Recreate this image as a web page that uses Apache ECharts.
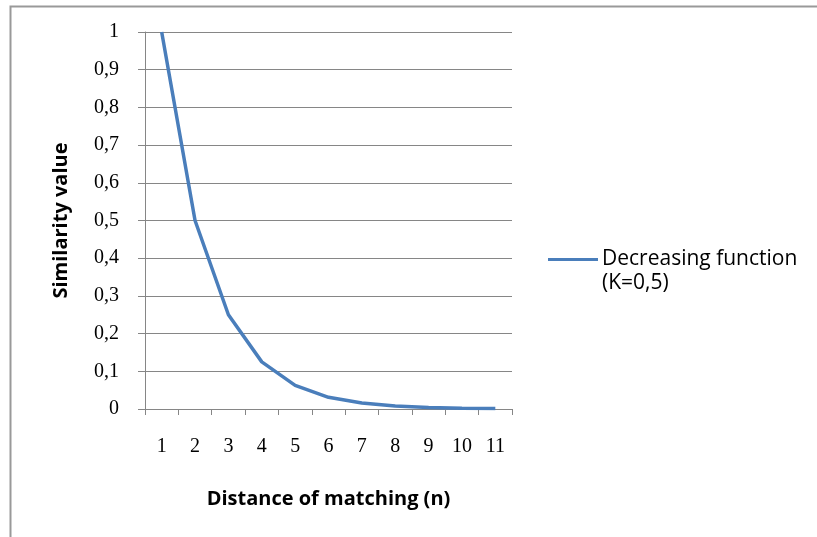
<!DOCTYPE html>
<html>
<head>
<meta charset="utf-8">
<script src="https://cdn.jsdelivr.net/npm/echarts@6/dist/echarts.min.js"></script>
<style>
  html, body { margin: 0; padding: 0; background: #fff; }
  #main { width: 817px; height: 537px; }
</style>
</head>
<body>
<div id="main"></div>
<script>
// 数据
var categories = ['1', '2', '3', '4', '5', '6', '7', '8', '9', '10', '11'];
var similarity = [1, 0.5, 0.25, 0.125, 0.0625, 0.031, 0.016, 0.008, 0.004, 0.002, 0.001];
var seriesName = 'Decreasing function';
var seriesNote = '(K=0,5)';

(function () {
  // 1.初始化echarts实例对象
  var myChart = echarts.init(document.getElementById('main'));

  // 2.指定配置项与数据
  var option = {
    backgroundColor: '#fff',
    animation: false,
    grid: {//图表四周留白
      left: 145,
      top: 32,
      right: 305,
      bottom: 128
    },
    legend: {
      left: 548,
      top: 249,
      padding: 0,
      orient: 'vertical',
      icon: 'rect',
      itemWidth: 50,
      itemHeight: 3,
      textStyle: {
        fontFamily: 'Open Sans',
        fontSize: 21,
        color: '#000',
        padding: [0, 0, 0, -1]
      },
      data: [seriesName]
    },
    xAxis: {
      type: 'category',
      boundaryGap: true,
      data: categories,
      name: 'Distance of matching (n)',
      nameLocation: 'middle',
      nameGap: 80,
      nameTextStyle: {
        fontFamily: 'Open Sans',
        fontWeight: 'bold',
        fontSize: 20,
        color: '#000'
      },
      axisLine: { lineStyle: { color: '#868686', width: 1 } },
      axisTick: { show: true, length: 6, lineStyle: { color: '#868686' } },
      axisLabel: {
        margin: 28,
        fontFamily: 'Liberation Serif',
        fontSize: 20,
        color: '#000'
      }
    },
    yAxis: {
      type: 'value',
      min: 0,
      max: 1,
      interval: 0.1,
      name: 'Similarity value',
      nameLocation: 'middle',
      nameGap: 74,
      nameTextStyle: {
        fontFamily: 'Open Sans',
        fontWeight: 'bold',
        fontSize: 20,
        color: '#000'
      },
      axisLine: { show: true, lineStyle: { color: '#868686', width: 1 } },
      axisTick: { show: true, length: 7, lineStyle: { color: '#868686' } },
      splitLine: { lineStyle: { color: '#868686', width: 1 } },
      axisLabel: {
        margin: 26,
        fontFamily: 'Liberation Serif',
        fontSize: 20,
        color: '#000',
        formatter: function (v) {
          return String(Math.round(v * 10) / 10).replace('.', ',');
        }
      }
    },
    series: [{
      name: seriesName,
      type: 'line',
      data: similarity,
      showSymbol: false,
      lineStyle: { color: '#4a7ebb', width: 3.5 },
      itemStyle: { color: '#4a7ebb' }
    }],
    graphic: [
      {//外框
        type: 'rect',
        shape: { x: 10.5, y: 6.5, width: 900, height: 600 },
        style: { fill: 'none', stroke: '#999', lineWidth: 2 },
        silent: true
      },
      {//图例第二行
        type: 'text',
        left: 602,
        top: 273,
        style: {
          text: seriesNote,
          font: '21px "Open Sans"',
          fill: '#000'
        }
      }
    ]
  };

  // 3.将配置项设置给echarts实例对象
  myChart.setOption(option);
})();
</script>
</body>
</html>
